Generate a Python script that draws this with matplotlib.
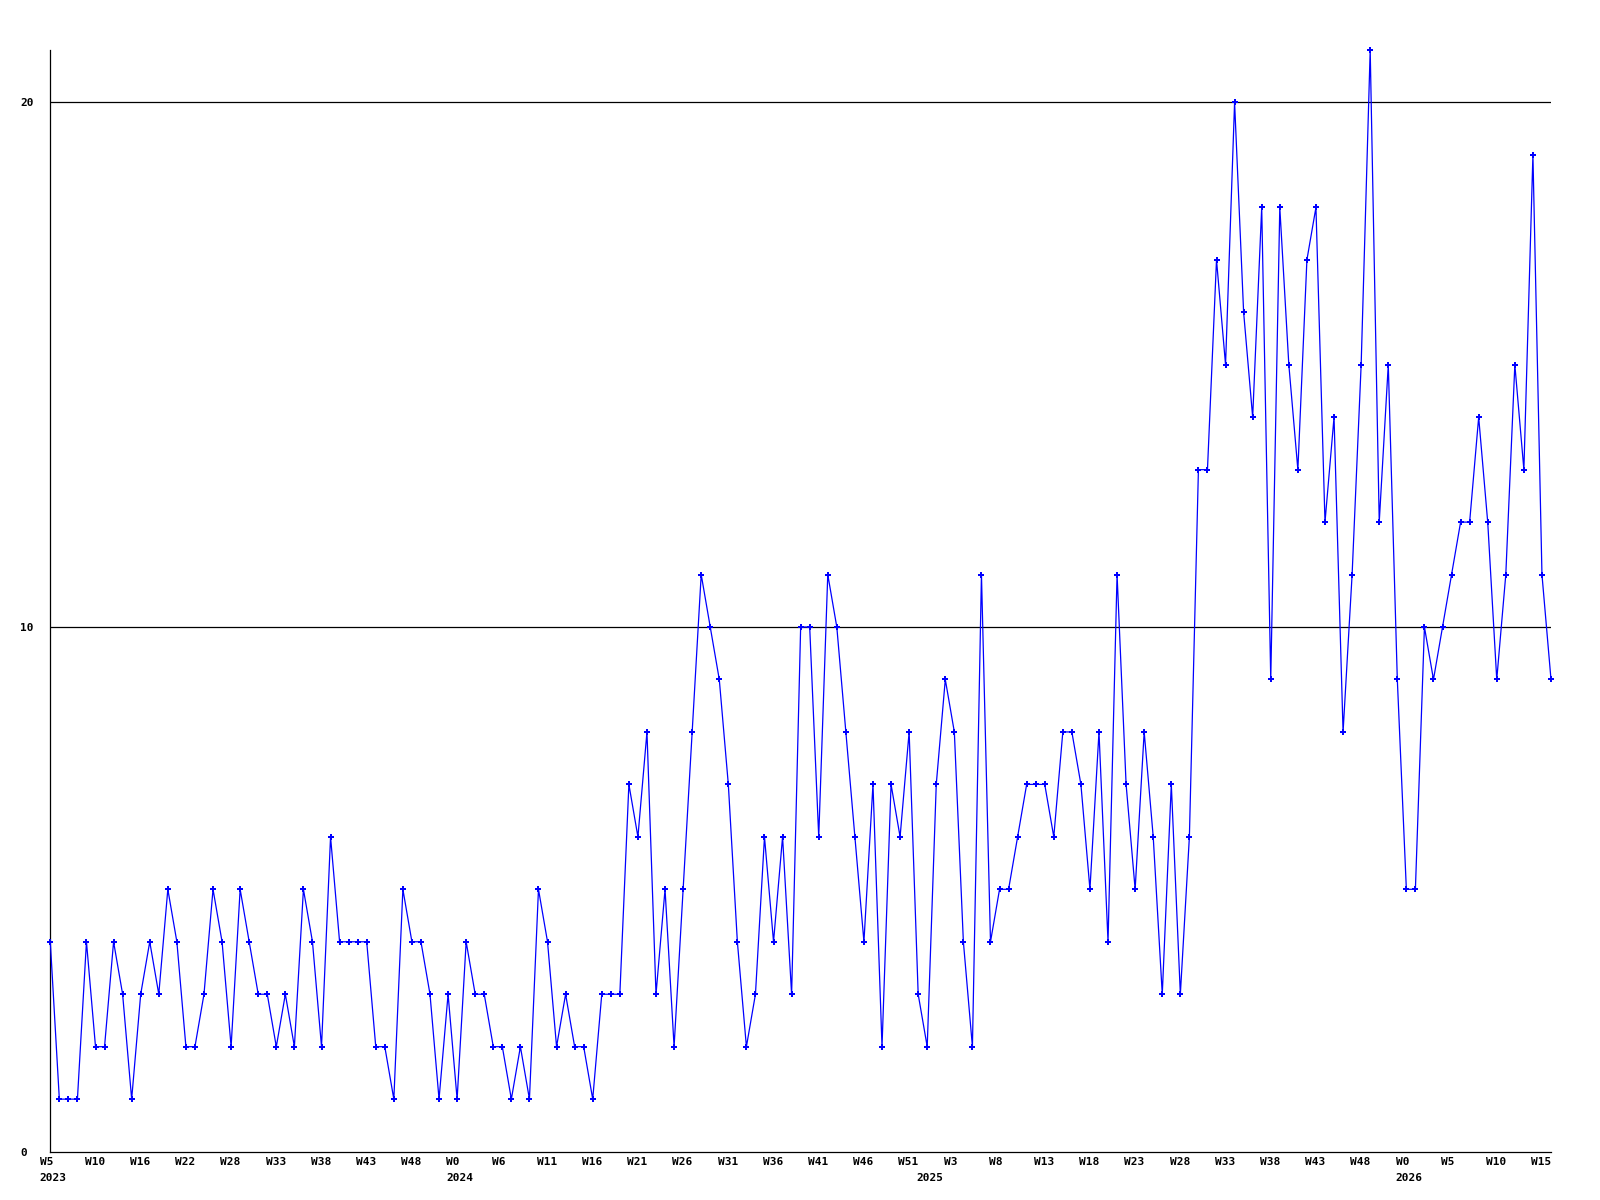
import matplotlib
matplotlib.use("Agg")
import matplotlib.pyplot as plt
import matplotlib.transforms as mtransforms
import numpy as np

# weekly counts, 2023 W5 .. 2026 W15
counts = [4, 1, 1, 1, 4, 2, 2, 4, 3, 1,
          3, 4, 3, 5, 4, 2, 2, 3, 5, 4,
          2, 5, 4, 3, 3, 2, 3, 2, 5, 4,
          2, 6, 4, 4, 4, 4, 2, 2, 1, 5,
          4, 4, 3, 1, 3, 1, 4, 3, 3, 2,
          2, 1, 2, 1, 5, 4, 2, 3, 2, 2,
          1, 3, 3, 3, 7, 6, 8, 3, 5, 2,
          5, 8, 11, 10, 9, 7, 4, 2, 3, 6,
          4, 6, 3, 10, 10, 6, 11, 10, 8, 6,
          4, 7, 2, 7, 6, 8, 3, 2, 7, 9,
          8, 4, 2, 11, 4, 5, 5, 6, 7, 7,
          7, 6, 8, 8, 7, 5, 8, 4, 11, 7,
          5, 8, 6, 3, 7, 3, 6, 13, 13, 17,
          15, 20, 16, 14, 18, 9, 18, 15, 13, 17,
          18, 12, 14, 8, 11, 15, 21, 12, 15, 9,
          5, 5, 10, 9, 10, 11, 12, 12, 14, 12,
          9, 11, 15, 13, 19, 11, 9]

week_labels = ["W5", "W10", "W16", "W22", "W28", "W33", "W38", "W43", "W48",
               "W0", "W6", "W11", "W16", "W21", "W26", "W31", "W36", "W41",
               "W46", "W51", "W3", "W8", "W13", "W18", "W23", "W28", "W33",
               "W38", "W43", "W48", "W0", "W5", "W10", "W15"]

years = ["2023", "2024", "2025", "2026"]
year_tick = [0, 9, 19.4, 30]   # which tick slot each year label sits under

y_grid = [10, 20]

x = np.arange(len(counts))
tick_step = 5

fig = plt.figure(figsize=(16, 12), dpi=100)
ax = fig.add_axes([50.3 / 1600, 1 - 1151.6 / 1200, (1551 - 50.3) / 1600, (1151.6 - 50) / 1200])

ax.plot(x, counts, color="#0000ff", lw=0.9, marker="P", markersize=4.6,
        markeredgewidth=0, zorder=3, clip_on=False)

for g in y_grid:
    ax.axhline(g, color="black", lw=0.9, zorder=1)

ax.set_xlim(0, len(counts) - 1)
ax.set_ylim(0, max(counts))

for side in ["top", "right"]:
    ax.spines[side].set_visible(False)
for side in ["left", "bottom"]:
    ax.spines[side].set_linewidth(0.9)
    ax.spines[side].set_color("black")

font = dict(family="DejaVu Sans Mono", weight="bold", size=8)

# y ticks: labels left aligned at x=20px
ax.set_yticks([0] + y_grid)
ax.set_yticklabels([str(v) for v in [0] + y_grid], **font)
ax.tick_params(axis="y", length=0, pad=21.8)
for lab in ax.get_yticklabels():
    lab.set_horizontalalignment("left")

# x ticks: uniform slots, labels left aligned slightly left of the slot
shift = mtransforms.ScaledTranslation(-10.7 / 100, 0, fig.dpi_scale_trans)
ax.set_xticks(np.arange(len(week_labels)) * tick_step)
ax.set_xticklabels(week_labels, **font)
ax.tick_params(axis="x", length=0, pad=4)
for lab in ax.get_xticklabels():
    lab.set_horizontalalignment("left")
    lab.set_transform(lab.get_transform() + shift)

for yr, k in zip(years, year_tick):
    ax.annotate(yr, xy=(k * tick_step, 0), xycoords=("data", "axes fraction"),
                xytext=(-7.7, -15.4), textcoords="offset points",
                ha="left", va="top", **font)

fig.savefig("out.png", dpi=100)
